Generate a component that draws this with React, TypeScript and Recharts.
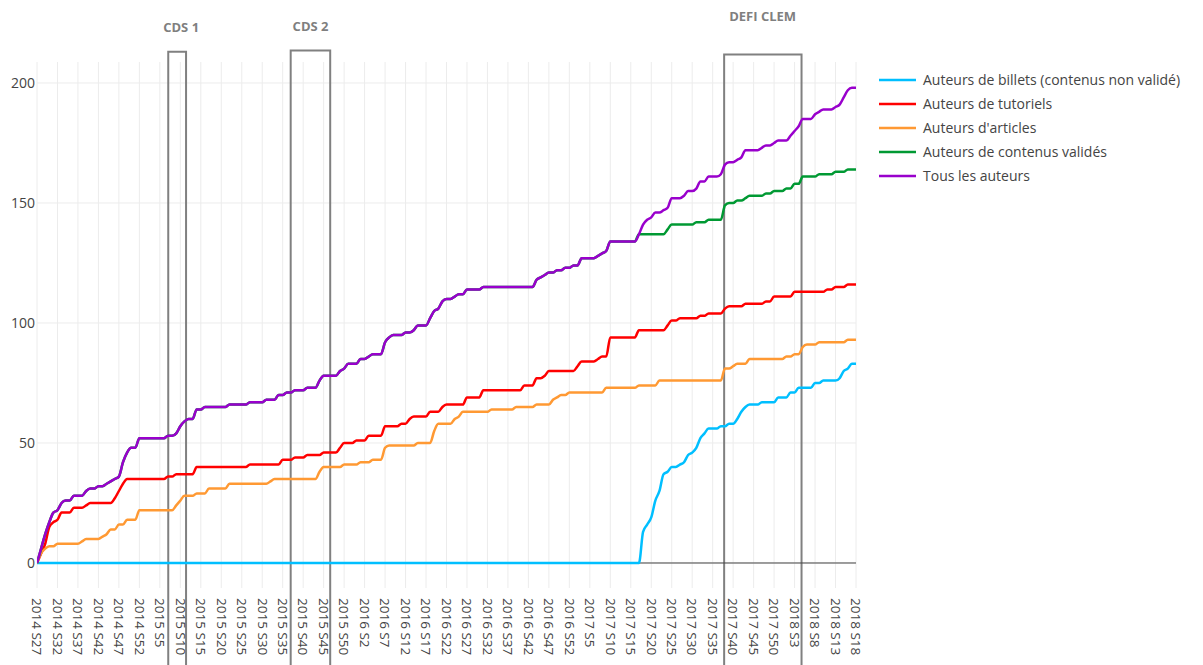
import React from 'react';
import {
  LineChart,
  Line,
  XAxis,
  YAxis,
  CartesianGrid,
  ReferenceArea,
  ReferenceLine,
  ReferenceDot,
} from 'recharts';

// Tick labels (one every 5 weeks, weekly index 0..200 = 2014 S27 .. 2018 S18)
const tickLabels = [
  '2014 S27', '2014 S32', '2014 S37', '2014 S42', '2014 S47', '2014 S52',
  '2015 S5', '2015 S10', '2015 S15', '2015 S20', '2015 S25', '2015 S30', '2015 S35', '2015 S40', '2015 S45', '2015 S50',
  '2016 S2', '2016 S7', '2016 S12', '2016 S17', '2016 S22', '2016 S27', '2016 S32', '2016 S37', '2016 S42', '2016 S47', '2016 S52',
  '2017 S5', '2017 S10', '2017 S15', '2017 S20', '2017 S25', '2017 S30', '2017 S35', '2017 S40', '2017 S45', '2017 S50',
  '2018 S3', '2018 S8', '2018 S13', '2018 S18',
];
const yTicks = [0, 50, 100, 150, 200];

// Auteurs de billets (contenus non validé)
const billets = [
  0, 0, 0, 0, 0, 0, 0, 0, 0, 0, 0, 0, 0, 0, 0, 0, 0, 0, 0, 0,
  0, 0, 0, 0, 0, 0, 0, 0, 0, 0, 0, 0, 0, 0, 0, 0, 0, 0, 0, 0,
  0, 0, 0, 0, 0, 0, 0, 0, 0, 0, 0, 0, 0, 0, 0, 0, 0, 0, 0, 0,
  0, 0, 0, 0, 0, 0, 0, 0, 0, 0, 0, 0, 0, 0, 0, 0, 0, 0, 0, 0,
  0, 0, 0, 0, 0, 0, 0, 0, 0, 0, 0, 0, 0, 0, 0, 0, 0, 0, 0, 0,
  0, 0, 0, 0, 0, 0, 0, 0, 0, 0, 0, 0, 0, 0, 0, 0, 0, 0, 0, 0,
  0, 0, 0, 0, 0, 0, 0, 0, 0, 0, 0, 0, 0, 0, 0, 0, 0, 0, 0, 0,
  0, 0, 0, 0, 0, 0, 0, 0, 13, 16,
  19, 26, 30, 37, 38, 40, 40, 41, 42, 45,
  46, 48, 52, 54, 56, 56, 56, 57, 57, 58,
  58, 60, 63, 65, 66, 66, 66, 67, 67, 67,
  67, 69, 69, 69, 71, 71, 73, 73, 73, 73,
  75, 75, 76, 76, 76, 76, 77, 80, 81, 83,
  83,
];

// Auteurs de tutoriels
const tutoriels = [
  0, 4, 8, 15, 17, 18, 21, 21, 21, 23,
  23, 23, 24, 25, 25, 25, 25, 25, 25, 27,
  30, 33, 35, 35, 35, 35, 35, 35, 35, 35,
  35, 35, 36, 36, 37, 37, 37, 37, 37, 40,
  40, 40, 40, 40, 40, 40, 40, 40, 40, 40,
  40, 40, 41, 41, 41, 41, 41, 41, 41, 41,
  43, 43, 43, 44, 44, 44, 45, 45, 45, 45,
  46, 46, 46, 46, 48, 50, 50, 50, 51, 51,
  51, 53, 53, 53, 53, 57, 57, 57, 57, 58,
  58, 60, 61, 61, 61, 61, 63, 63, 63, 65,
  66, 66, 66, 66, 66, 69, 69, 69, 69, 72,
  72, 72, 72, 72, 72, 72, 72, 72, 72, 74,
  74, 74, 77, 77, 78, 80, 80, 80, 80, 80,
  80, 80, 82, 84, 84, 84, 84, 85, 86, 86,
  94, 94, 94, 94, 94, 94, 94, 97, 97, 97,
  97, 97, 97, 97, 99, 101, 101, 102, 102, 102,
  102, 102, 103, 103, 104, 104, 104, 104, 106, 107,
  107, 107, 107, 108, 108, 108, 108, 108, 109, 109,
  111, 111, 111, 111, 111, 113, 113, 113, 113, 113,
  113, 113, 113, 114, 114, 115, 115, 115, 116, 116,
  116,
];

// Auteurs d'articles
const articles = [
  0, 4, 6, 7, 7, 8, 8, 8, 8, 8,
  8, 9, 10, 10, 10, 10, 11, 12, 14, 14,
  16, 16, 18, 18, 18, 22, 22, 22, 22, 22,
  22, 22, 22, 22, 24, 26, 28, 28, 28, 29,
  29, 29, 31, 31, 31, 31, 31, 33, 33, 33,
  33, 33, 33, 33, 33, 33, 33, 34, 35, 35,
  35, 35, 35, 35, 35, 35, 35, 35, 35, 38,
  40, 40, 40, 40, 40, 41, 41, 41, 41, 42,
  42, 42, 43, 43, 43, 48, 49, 49, 49, 49,
  49, 49, 49, 50, 50, 50, 50, 55, 58, 58,
  58, 58, 60, 61, 63, 63, 63, 63, 63, 63,
  63, 64, 64, 64, 64, 64, 64, 65, 65, 65,
  65, 65, 66, 66, 66, 66, 68, 69, 70, 70,
  71, 71, 71, 71, 71, 71, 71, 71, 71, 73,
  73, 73, 73, 73, 73, 73, 73, 74, 74, 74,
  74, 74, 76, 76, 76, 76, 76, 76, 76, 76,
  76, 76, 76, 76, 76, 76, 76, 76, 81, 81,
  82, 83, 83, 83, 85, 85, 85, 85, 85, 85,
  85, 85, 85, 86, 86, 87, 87, 90, 91, 91,
  91, 92, 92, 92, 92, 92, 92, 92, 93, 93,
  93,
];

// Auteurs de contenus validés
const valides = [
  0, 6, 12, 17, 21, 22, 25, 26, 26, 28,
  28, 28, 30, 31, 31, 32, 32, 33, 34, 35,
  36, 42, 46, 48, 48, 52, 52, 52, 52, 52,
  52, 52, 53, 53, 54, 57, 59, 60, 60, 64,
  64, 65, 65, 65, 65, 65, 65, 66, 66, 66,
  66, 66, 67, 67, 67, 67, 68, 68, 68, 70,
  70, 71, 71, 72, 72, 72, 73, 73, 73, 76,
  78, 78, 78, 78, 80, 81, 83, 83, 83, 85,
  85, 86, 87, 87, 87, 92, 94, 95, 95, 95,
  96, 96, 97, 99, 99, 99, 102, 105, 106, 109,
  110, 110, 111, 112, 112, 114, 114, 114, 114, 115,
  115, 115, 115, 115, 115, 115, 115, 115, 115, 115,
  115, 115, 118, 119, 120, 121, 121, 122, 122, 123,
  123, 124, 124, 127, 127, 127, 127, 128, 129, 130,
  134, 134, 134, 134, 134, 134, 134, 137, 137, 137,
  137, 137, 137, 137, 139, 141, 141, 141, 141, 141,
  141, 142, 142, 142, 143, 143, 143, 143, 149, 150,
  150, 151, 151, 152, 153, 153, 153, 153, 154, 154,
  155, 155, 155, 156, 156, 158, 158, 161, 161, 161,
  161, 162, 162, 162, 162, 163, 163, 163, 164, 164,
  164,
];

// Tous les auteurs
const tous = [
  0, 6, 12, 17, 21, 22, 25, 26, 26, 28,
  28, 28, 30, 31, 31, 32, 32, 33, 34, 35,
  36, 42, 46, 48, 48, 52, 52, 52, 52, 52,
  52, 52, 53, 53, 54, 57, 59, 60, 60, 64,
  64, 65, 65, 65, 65, 65, 65, 66, 66, 66,
  66, 66, 67, 67, 67, 67, 68, 68, 68, 70,
  70, 71, 71, 72, 72, 72, 73, 73, 73, 76,
  78, 78, 78, 78, 80, 81, 83, 83, 83, 85,
  85, 86, 87, 87, 87, 92, 94, 95, 95, 95,
  96, 96, 97, 99, 99, 99, 102, 105, 106, 109,
  110, 110, 111, 112, 112, 114, 114, 114, 114, 115,
  115, 115, 115, 115, 115, 115, 115, 115, 115, 115,
  115, 115, 118, 119, 120, 121, 121, 122, 122, 123,
  123, 124, 124, 127, 127, 127, 127, 128, 129, 130,
  134, 134, 134, 134, 134, 134, 134, 137, 141, 143,
  144, 146, 146, 147, 148, 152, 152, 152, 153, 155,
  155, 156, 159, 159, 161, 161, 161, 162, 166, 167,
  167, 168, 169, 172, 172, 172, 172, 173, 174, 174,
  175, 176, 176, 176, 178, 180, 182, 185, 185, 185,
  187, 188, 189, 189, 189, 190, 191, 194, 197, 198,
  198,
];

const seriesNames = [
  'Auteurs de billets (contenus non validé)',
  'Auteurs de tutoriels',
  "Auteurs d'articles",
  'Auteurs de contenus validés',
  'Tous les auteurs',
];
const seriesKeys = ['billets', 'tutoriels', 'articles', 'valides', 'tous'];
const seriesColors = ['#00bfff', '#ff0000', '#ff9933', '#009933', '#9900cc'];
const seriesValues = [billets, tutoriels, articles, valides, tous];

// Event boxes
const eventNames = ['CDS 1', 'CDS 2', 'DEFI CLEM'];
const eventStart = [32.05, 61.95, 167.8];
const eventEnd = [36.4, 71.6, 186.7];
const eventTop = [213.0, 213.5, 211.9];
// annotation text anchor positions (week index, value at baseline)
const noteX = [35.2, 66.8, 177.2];
const noteY = [221.1, 221.8, 226.0];

const data = tous.map((_, i) => {
  const row: Record<string, number> = { idx: i };
  seriesKeys.forEach((k, s) => {
    row[k] = seriesValues[s][i];
  });
  return row;
});

const xTicks = tickLabels.map((_, k) => k * 5);

const FONT = '"Open Sans", sans-serif';

const XTick = (props: any) => {
  const { x, y, payload } = props;
  const label = tickLabels[Math.round(payload.value / 5)];
  return (
    <text
      x={x}
      y={y}
      dy="0.35em"
      transform={`rotate(90, ${x}, ${y})`}
      textAnchor="start"
      fill="#444"
      fontSize={13.5}
      fontFamily={FONT}
    >
      {label}
    </text>
  );
};

const Note = (text: string) => (props: any) => (
  <text
    x={props.cx}
    y={props.cy}
    textAnchor="middle"
    fill="#7f7f7f"
    fontSize={13}
    fontWeight={700}
    fontFamily={FONT}
  >
    {text}
  </text>
);

export default function App() {
  return (
    <div
      style={{
        position: 'absolute',
        left: 0,
        top: 0,
        width: 1203,
        height: 665,
        background: '#fff',
        fontFamily: FONT,
        overflow: 'hidden',
      }}
    >
      <LineChart
        width={1203}
        height={665}
        data={data}
        margin={{ top: 62, right: 347, bottom: 0, left: 0 }}
      >
        <CartesianGrid
          stroke="#ececec"
          strokeWidth={1}
          verticalValues={xTicks}
          horizontalValues={yTicks}
        />
        <XAxis
          dataKey="idx"
          type="number"
          domain={[0, 200]}
          ticks={xTicks}
          interval={0}
          height={77}
          axisLine={false}
          tickLine={false}
          tickSize={0}
          tickMargin={10}
          tick={(p: any) => <XTick {...p} />}
          allowDataOverflow
        />
        <YAxis
          type="number"
          domain={[-10.42, 208.75]}
          ticks={yTicks}
          width={37}
          axisLine={false}
          tickLine={false}
          tickSize={0}
          tickMargin={2}
          tick={{ fill: '#444', fontSize: 14, fontFamily: FONT }}
          allowDataOverflow
        />
        <ReferenceLine y={0} stroke="#444" strokeWidth={1} />
        {seriesKeys.map((k, s) => (
          <Line
            key={k}
            dataKey={k}
            name={seriesNames[s]}
            type="monotone"
            stroke={seriesColors[s]}
            strokeWidth={2.5}
            dot={false}
            activeDot={false}
            isAnimationActive={false}
          />
        ))}
        {eventNames.map((n, e) => (
          <ReferenceArea
            key={n}
            x1={eventStart[e]}
            x2={eventEnd[e]}
            y1={-50}
            y2={eventTop[e]}
            ifOverflow="visible"
            fill="none"
            fillOpacity={0}
            stroke="#808080"
            strokeWidth={2}
            strokeOpacity={1}
          />
        ))}
        {eventNames.map((n, e) => (
          <ReferenceDot
            key={'note-' + n}
            x={noteX[e]}
            y={noteY[e]}
            r={0}
            ifOverflow="visible"
            shape={Note(n)}
          />
        ))}
      </LineChart>
      <div style={{ position: 'absolute', left: 879, top: 68 }}>
        {seriesNames.map((n, s) => (
          <div
            key={n}
            style={{ display: 'flex', alignItems: 'center', height: 24 }}
          >
            <svg width={37} height={24} style={{ display: 'block' }}>
              <line x1={0} x2={37} y1={12} y2={12} stroke={seriesColors[s]} strokeWidth={2.5} />
            </svg>
            <span
              style={{
                marginLeft: 7,
                fontSize: 14,
                color: '#444',
                fontFamily: FONT,
                whiteSpace: 'nowrap',
                lineHeight: '24px',
              }}
            >
              {n}
            </span>
          </div>
        ))}
      </div>
    </div>
  );
}
